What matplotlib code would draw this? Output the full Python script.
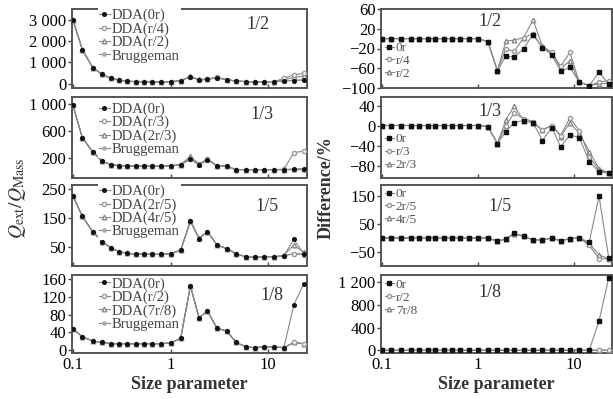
import matplotlib
matplotlib.use("Agg")
import matplotlib.pyplot as plt
from matplotlib.ticker import FixedLocator, NullLocator, FixedFormatter, NullFormatter

plt.rcParams['font.family'] = ['Liberation Serif', 'DejaVu Serif']
plt.rcParams['mathtext.fontset'] = 'stix'
plt.rcParams['axes.unicode_minus'] = True

# ---------------- data ----------------
x = [0.1, 0.125, 0.16, 0.2, 0.245, 0.3, 0.36, 0.44, 0.54, 0.65, 0.8, 1.0,
     1.27, 1.6, 1.96, 2.39, 3.0, 3.76, 4.7, 5.9, 7.3, 9.1, 11.4, 14.5, 18.3, 23.1]

# left column: Q_ext / Q_Mass
l12_0r = [3000, 1600, 750, 435, 250, 170, 120, 100, 90, 85, 85, 90, 150, 320, 180, 200, 290, 180, 130, 100, 90, 90, 95, 130, 150, 180]
l12_r4 = [3000, 1600, 750, 435, 250, 170, 120, 100, 90, 85, 85, 90, 150, 330, 190, 210, 300, 180, 130, 100, 90, 90, 100, 250, 420, 480]
l12_r2 = [3000, 1600, 750, 435, 250, 170, 120, 100, 90, 85, 85, 90, 150, 340, 200, 220, 300, 190, 130, 100, 90, 95, 100, 180, 300, 350]
l12_br = [3000, 1600, 750, 435, 250, 170, 120, 100, 90, 85, 85, 90, 150, 320, 180, 200, 290, 180, 130, 100, 90, 90, 95, 130, 160, 170]

l13_0r = [990, 500, 290, 150, 100, 85, 80, 78, 76, 76, 76, 80, 100, 180, 100, 175, 80, 76, 25, 25, 25, 25, 25, 25, 30, 30]
l13_r3 = [990, 500, 290, 150, 100, 85, 80, 78, 76, 76, 76, 80, 100, 190, 105, 180, 80, 76, 25, 25, 25, 25, 25, 30, 280, 300]
l13_2r3 = [990, 500, 290, 150, 100, 85, 80, 78, 76, 76, 76, 80, 100, 225, 110, 185, 85, 76, 25, 25, 25, 25, 25, 25, 35, 40]
l13_br = [990, 500, 290, 150, 100, 85, 80, 78, 76, 76, 76, 80, 100, 180, 100, 175, 80, 76, 25, 25, 25, 25, 25, 25, 25, 25]

l15_0r = [228, 155, 102, 67, 45, 32, 26, 24, 23, 23, 23, 25, 37, 138, 78, 102, 55, 43, 25, 14, 12, 15, 14, 18, 75, 25]
l15_2r5 = [228, 155, 102, 67, 45, 32, 26, 24, 23, 23, 23, 25, 37, 138, 78, 102, 55, 43, 25, 14, 12, 15, 14, 18, 25, 22]
l15_4r5 = [228, 155, 102, 67, 45, 32, 26, 24, 23, 23, 23, 25, 37, 140, 80, 102, 55, 43, 25, 14, 12, 15, 14, 20, 55, 30]
l15_br = [228, 155, 102, 67, 45, 32, 26, 24, 23, 23, 23, 25, 37, 138, 78, 102, 55, 43, 25, 14, 12, 15, 14, 18, 25, 25]

l18_0r = [48, 30, 20, 17, 14, 14, 14, 14, 14, 14, 14, 16, 26, 145, 73, 88, 49, 43, 17, 7, 5, 7, 7, 5, 102, 150]
l18_r2 = [48, 30, 20, 17, 14, 14, 14, 14, 14, 14, 14, 16, 26, 145, 73, 88, 49, 43, 17, 7, 5, 7, 7, 5, 17, 14]
l18_7r8 = [48, 30, 20, 17, 14, 14, 14, 14, 14, 14, 14, 16, 26, 145, 73, 88, 49, 43, 17, 7, 5, 7, 7, 5, 17, 14]
l18_br = [48, 30, 20, 17, 14, 14, 14, 14, 14, 14, 14, 16, 26, 145, 73, 88, 49, 43, 17, 7, 5, 7, 7, 5, 17, 14]

# right column: Difference / %
r12_0r = [0]*12 + [-6, -65, -35, -38, -20, 8, -18, -33, -66, -58, -88, -95, -68, -92]
r12_r4 = [0]*12 + [-6, -65, -20, -26, 2, 10, -18, -28, -56, -28, -88, -95, -88, -85]
r12_r2 = [0]*12 + [-6, -65, -5, -3, 2, 38, -15, -28, -60, -45, -88, -95, -92, -90]

r13_0r = [0]*12 + [-2, -36, -12, 6, 10, 6, -30, -4, -43, -19, -24, -72, -93, -95]
r13_r3 = [0]*12 + [-2, -36, 0, 25, 14, 8, -9, 0, -20, 15, -10, -62, -90, -95]
r13_2r3 = [0]*12 + [-2, -36, 11, 39, 10, 5, -9, 0, -22, 5, -15, -52, -86, -95]

r15_0r = [0]*12 + [0, -11, -3, 18, 6, -6, -7, 0, -10, -2, 0, -14, 150, -70]
r15_2r5 = [0]*12 + [0, -11, -3, 15, 6, -6, -7, 0, -10, -2, 0, -26, -74, -74]
r15_4r5 = [0]*12 + [0, -11, -3, 16, 6, -6, -7, 0, -10, -2, 0, -20, -60, -74]

r18_0r = [0]*24 + [515, 1280]
r18_r2 = [0]*24 + [5, 0]
r18_7r8 = [0]*24 + [0, 0]

left_panels = [
    ("1/2", [("DDA(0r)", l12_0r), ("DDA(r/4)", l12_r4), ("DDA(r/2)", l12_r2), ("Bruggeman", l12_br)],
     [0, 1000, 2000, 3000], ["0", "1 000", "2 000", "3 000"], (-200, 3500)),
    ("1/3", [("DDA(0r)", l13_0r), ("DDA(r/3)", l13_r3), ("DDA(2r/3)", l13_2r3), ("Bruggeman", l13_br)],
     [200, 600, 1000], ["200", "600", "1 000"], (-100, 1110)),
    ("1/5", [("DDA(0r)", l15_0r), ("DDA(2r/5)", l15_2r5), ("DDA(4r/5)", l15_4r5), ("Bruggeman", l15_br)],
     [50, 150, 250], ["50", "150", "250"], (-18, 265)),
    ("1/8", [("DDA(0r)", l18_0r), ("DDA(r/2)", l18_r2), ("DDA(7r/8)", l18_7r8), ("Bruggeman", l18_br)],
     [0, 40, 80, 120, 160], ["0", "40", "80", "120", "160"], (-7, 170)),
]
right_panels = [
    ("1/2", [("0r", r12_0r), ("r/4", r12_r4), ("r/2", r12_r2)],
     [-100, -60, -20, 20, 60], ["\u2212100", "\u221260", "\u221220", "20", "60"], (-100, 60)),
    ("1/3", [("0r", r13_0r), ("r/3", r13_r3), ("2r/3", r13_2r3)],
     [-80, -40, 0, 40], ["\u221280", "\u221240", "0", "40"], (-105, 57)),
    ("1/5", [("0r", r15_0r), ("2r/5", r15_2r5), ("4r/5", r15_4r5)],
     [-50, 50, 150], ["\u221250", "50", "150"], (-100, 190)),
    ("1/8", [("0r", r18_0r), ("r/2", r18_r2), ("7r/8", r18_7r8)],
     [0, 400, 800, 1200], ["0", "400", "800", "1 200"], (-50, 1330)),
]

# ---------------- layout ----------------
W, H = 613, 399
fig = plt.figure(figsize=(W / 100, H / 100), dpi=100)

rows_px = [(9, 88), (97, 178), (185, 266), (275, 353)]
left_x = (72, 307)
right_x = (381, 612)

left_leg = [(0.11, 1.02), (0.11, 0.95), (0.11, 1.02), (0.11, 0.99)]
right_leg = [(0.01, 0.60), (0.01, 0.57), (0.01, 0.98), (0.01, 0.97)]
left_lab = [(0.79, 0.80), (0.81, 0.78), (0.83, 0.73), (0.85, 0.74)]
right_lab = [(0.47, 0.84), (0.47, 0.82), (0.515, 0.74), (0.47, 0.77)]

styles = [
    dict(marker='o', ms=2.6, mfc='#111111', mec='#111111'),
    dict(marker='o', ms=3.0, mfc='white', mec='#999999'),
    dict(marker='^', ms=3.3, mfc='white', mec='#888888'),
    dict(marker='o', ms=2.4, mfc='#aaaaaa', mec='#aaaaaa'),
]
rstyles = [
    dict(marker='s', ms=2.6, mfc='#111111', mec='#111111'),
    dict(marker='o', ms=3.0, mfc='white', mec='#999999'),
    dict(marker='^', ms=3.3, mfc='white', mec='#888888'),
]

def make_ax(xpx, rpx):
    x0, x1 = xpx
    t, b = rpx
    return fig.add_axes([x0 / W, 1 - b / H, (x1 - x0) / W, (b - t) / H])

def style_ax(ax, yt, ytl, ylim, bottom):
    ax.set_xscale('log')
    ax.set_xlim(0.098, 25)
    ax.set_ylim(*ylim)
    ax.xaxis.set_major_locator(FixedLocator([0.1, 1, 10]))
    ax.xaxis.set_minor_locator(NullLocator())
    if bottom:
        ax.xaxis.set_major_formatter(FixedFormatter(["0.1", "1", "10"]))
    else:
        ax.xaxis.set_major_formatter(NullFormatter())
    ax.set_yticks(yt)
    ax.set_yticklabels(ytl)
    ax.tick_params(axis='y', direction='out', length=3, width=1, labelsize=12, pad=1, color='#444444')
    ax.tick_params(axis='x', direction='in', length=3, width=1, labelsize=12, pad=3, color='#444444')
    for s in ax.spines.values():
        s.set_linewidth(1.4)
        s.set_color('#555555')

for i, (lab, series, yt, ytl, ylim) in enumerate(left_panels):
    ax = make_ax(left_x, rows_px[i])
    style_ax(ax, yt, ytl, ylim, i == 3)
    for j, (name, vals) in enumerate(series):
        ax.plot(x, vals, color='#888888', lw=0.8, label=name, zorder=3 + (3 - j) * 0.1, **styles[j])
    leg = ax.legend(loc='upper left', bbox_to_anchor=left_leg[i], frameon=True, fontsize=10.5,
                    handlelength=0.7, handletextpad=0.15, labelspacing=0.0, borderpad=0.1,
                    borderaxespad=0.0, fancybox=False)
    leg.get_frame().set_edgecolor('none')
    leg.get_frame().set_facecolor('white')
    leg.get_frame().set_alpha(1)
    leg.set_zorder(5)
    for t in leg.get_texts():
        t.set_color('#444444')
    ax.text(left_lab[i][0], left_lab[i][1], lab, transform=ax.transAxes, fontsize=13,
            ha='center', va='center', color='#333333')
    if i == 3:
        ax.set_xlabel("Size parameter", fontsize=13, fontweight='bold', labelpad=2, color='#333333')

for i, (lab, series, yt, ytl, ylim) in enumerate(right_panels):
    ax = make_ax(right_x, rows_px[i])
    style_ax(ax, yt, ytl, ylim, i == 3)
    for j, (name, vals) in enumerate(series):
        ax.plot(x, vals, color='#888888', lw=0.8, label=name, zorder=3 + (3 - j) * 0.1, **rstyles[j])
    leg = ax.legend(loc='upper left', bbox_to_anchor=right_leg[i], frameon=False, fontsize=9.5,
                    handlelength=0.7, handletextpad=0.15, labelspacing=0.05, borderpad=0.1,
                    borderaxespad=0.0)
    for t in leg.get_texts():
        t.set_color('#555555')
    ax.text(right_lab[i][0], right_lab[i][1], lab, transform=ax.transAxes, fontsize=13,
            ha='center', va='center', color='#333333')
    if i == 3:
        ax.set_xlabel("Size parameter", fontsize=13, fontweight='bold', labelpad=2, color='#333333')

fig.text(18 / W, 1 - 198 / H, r"$Q_{\mathrm{ext}}/Q_{\mathrm{Mass}}$", rotation=90,
         ha='center', va='center', fontsize=14, color='#333333')
fig.text(326 / W, 1 - 188 / H, "Difference/%", rotation=90,
         ha='center', va='center', fontsize=13, fontweight='bold', color='#333333')

fig.savefig("out.png", dpi=100)
